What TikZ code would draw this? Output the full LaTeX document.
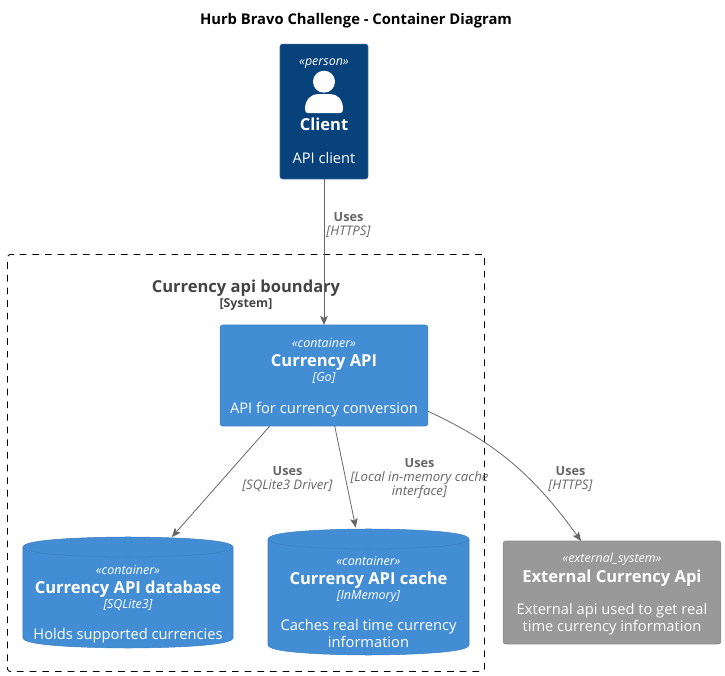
\documentclass[tikz,border=0pt]{standalone}
\usepackage{fontspec}
\setmainfont{Open Sans}
\usepackage{xcolor}
\usetikzlibrary{arrows.meta}

\definecolor{personblue}{HTML}{08427B}
\definecolor{personline}{HTML}{2E6295}
\definecolor{contblue}{HTML}{438DD5}
\definecolor{contline}{HTML}{3C7FC0}
\definecolor{extgray}{HTML}{999999}
\definecolor{extline}{HTML}{8A8A8A}
\definecolor{rellabel}{HTML}{666666}
\definecolor{bndtext}{HTML}{444444}

\newcommand{\stereo}[1]{{\fontsize{7.1}{9.7}\selectfont\itshape\rule{0pt}{7.6pt}#1}}
\newcommand{\cname}[1]{\raisebox{-1.2pt}{\fontsize{9.4}{9.7}\selectfont\bfseries #1}}
\newcommand{\ctech}[1]{{\fontsize{7.1}{9.7}\selectfont\itshape #1}}
\newcommand{\dbshape}[4]{
	\draw[contline,fill=contblue,line width=0.3pt] (#1,#3+10) 
	.. controls (#1,#3) and ({(#1+#2)/2},#3) .. ({(#1+#2)/2},#3) 
	.. controls ({(#1+#2)/2},#3) and (#2,#3) .. (#2,#3+10) 
	-- (#2,#4-10) 
	.. controls (#2,#4) and ({(#1+#2)/2},#4) .. ({(#1+#2)/2},#4) 
	.. controls ({(#1+#2)/2},#4) and (#1,#4) .. (#1,#4-10) -- cycle;
	\draw[contline,line width=0.3pt] (#1,#3+10) 
	.. controls (#1,#3+20) and ({(#1+#2)/2},#3+20) .. ({(#1+#2)/2},#3+20) 
	.. controls ({(#1+#2)/2},#3+20) and (#2,#3+20) .. (#2,#3+10);
}

\tikzset{
	c4box/.style={inner sep=0pt,outer sep=0pt,align=center,text=white,
		rounded corners=1.5pt,line width=0.3pt,
		font=\fontsize{8.35}{9.7}\selectfont},
	personbox/.style={c4box,draw=personline,fill=personblue},
	contbox/.style={c4box,draw=contline,fill=contblue},
	extbox/.style={c4box,draw=extline,fill=extgray},
	dbtext/.style={c4box,rounded corners=0pt},
	uses/.style={draw=rellabel,line width=0.45pt,
		-{Stealth[length=5.2pt,width=4.4pt,inset=1.2pt]}},
	rellab/.style={inner sep=0pt,align=center,text=rellabel,
		font=\fontsize{7.5}{8}\selectfont},
}

\begin{document}
\begin{tikzpicture}[x=0.02cm,y=-0.02cm]
	\useasboundingbox (0,0) rectangle (725,676);
	
	\node[inner sep=0pt,font=\fontsize{8.4}{10}\selectfont\bfseries] (title) 
	at (356,20.5) {Hurb Bravo Challenge - Container Diagram};
	
	\node[draw=black,dash pattern=on 3.8pt off 3.4pt,rounded corners=1.5pt,
	line width=0.5pt,inner sep=0pt,minimum width=9.54cm,minimum height=8.34cm] 
	(boundary) at (246,463) {};
	\node[inner sep=0pt,align=center,text=bndtext,font=\fontsize{9.4}{9.7}\selectfont\bfseries] 
	(bndtitle) at (246,295) {Currency api boundary\\[-1pt]
		{\fontsize{7}{9.7}\selectfont [System]}};
	
	\node[personbox,minimum width=1.76cm,minimum height=2.7cm] (client) 
	at (324,111.5) {\ctech{«person»}\\[26.2pt]
		\cname{Client}\\[10.3pt]
		API client};
	\fill[white] (324,81.7) circle (11);
	\fill[white] (305,109) .. controls (305,99) and (312,94) .. (318,94) 
	-- (330,94) .. controls (337,94) and (343,99) .. (343,109) 
	.. controls (343,112) and (342,113) .. (340,113) -- (308,113) 
	.. controls (306,113) and (305,112) .. (305,109) -- cycle;
	
	\node[contbox,minimum width=4.16cm,minimum height=2.02cm] (api) 
	at (324,375.5) {\stereo{«container»}\\
		\cname{Currency API}\\
		\ctech{[Go]}\\[8pt]
		API for currency conversion};
	
	\dbshape{23}{233}{537}{648}
	\node[dbtext,minimum width=4.2cm,minimum height=2.6cm] (db) 
	at (128,602) {\stereo{«container»}\\
		\cname{Currency API database}\\
		\ctech{[SQLite3]}\\[8pt]
		Holds supported currencies};
	
	\dbshape{268}{469}{529}{655}
	\node[dbtext,minimum width=4.02cm,minimum height=2.9cm] (cache) 
	at (368.5,600) {\stereo{«container»}\\
		\cname{Currency API cache}\\
		\ctech{[InMemory]}\\[8pt]
		Caches real time currency\\
		information};
	
	\node[extbox,minimum width=4.36cm,minimum height=2.06cm] (ext) 
	at (612,592.5) {\stereo{«external\_system»}\\
		\cname{External Currency Api}\\[9pt]
		External api used to get real\\
		time currency information};
	
	\draw[uses] (client.south) -- (api.north);
	\draw[uses] (api.223.6) -- (db.56.7);
	\draw[uses] (api.-78.8) -- (cache.100.5);
	\draw[uses] (api.-19.8) .. controls (490,440) and (530,470) .. (ext.121.9);
	
	\node[rellab] (usesapi) at (348.5,225) {\textbf{\fontsize{7.2}{8}\selectfont Uses}\\\textit{[HTTPS]}};
	\node[rellab] (usesdb) at (287.5,479) {\textbf{\fontsize{7.2}{8}\selectfont Uses}\\\textit{[SQLite3 Driver]}};
	\node[rellab] (usescache) at (419.5,479) {\textbf{\fontsize{7.2}{8}\selectfont Uses}\\\textit{[Local in-memory cache}\\\textit{interface]}};
	\node[rellab] (usesext) at (570.5,479) {\textbf{\fontsize{7.2}{8}\selectfont Uses}\\\textit{[HTTPS]}};
\end{tikzpicture}
\end{document}
